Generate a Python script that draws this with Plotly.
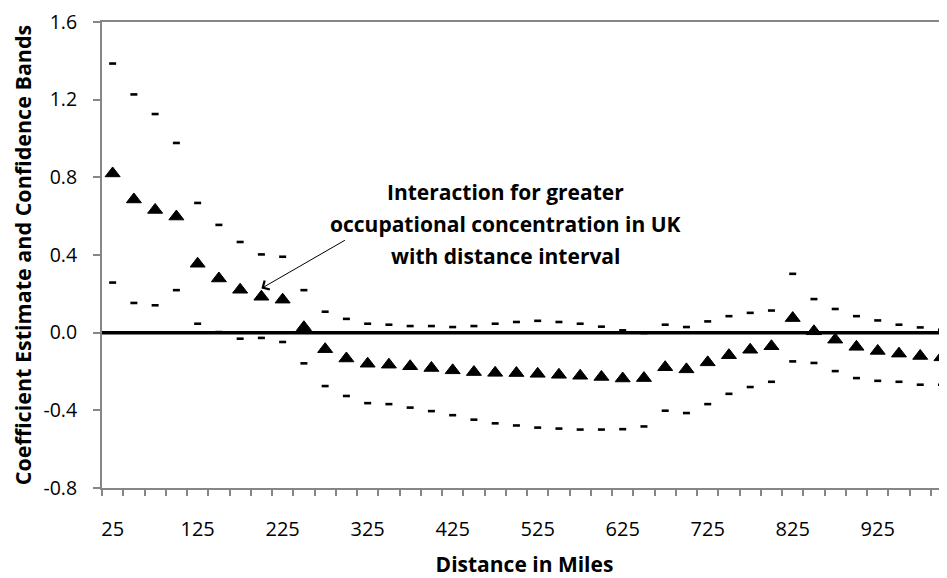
import plotly.graph_objects as go

# ---- data ----
distance = [25, 50, 75, 100, 125, 150, 175, 200, 225, 250,
            275, 300, 325, 350, 375, 400, 425, 450, 475, 500,
            525, 550, 575, 600, 625, 650, 675, 700, 725, 750,
            775, 800, 825, 850, 875, 900, 925, 950, 975, 1000]

estimate = [0.820, 0.686, 0.632, 0.598, 0.355, 0.279, 0.221, 0.185, 0.170, 0.028,
            -0.085, -0.133, -0.160, -0.165, -0.173, -0.182, -0.194, -0.203, -0.207, -0.208,
            -0.212, -0.217, -0.222, -0.228, -0.236, -0.234, -0.178, -0.189, -0.153, -0.116,
            -0.088, -0.070, 0.075, 0.007, -0.036, -0.073, -0.094, -0.108, -0.120, -0.127]

upper = [1.386, 1.227, 1.126, 0.977, 0.668, 0.555, 0.467, 0.403, 0.391, 0.219,
         0.108, 0.071, 0.046, 0.041, 0.034, 0.034, 0.029, 0.034, 0.046, 0.055,
         0.061, 0.055, 0.046, 0.031, 0.012, -0.002, 0.041, 0.029, 0.058, 0.085,
         0.102, 0.114, 0.303, 0.173, 0.122, 0.085, 0.063, 0.041, 0.027, 0.015]

lower = [0.258, 0.153, 0.141, 0.219, 0.046, 0.003, -0.031, -0.027, -0.048, -0.158,
         -0.275, -0.326, -0.363, -0.368, -0.386, -0.404, -0.425, -0.448, -0.467, -0.478,
         -0.489, -0.494, -0.499, -0.499, -0.497, -0.483, -0.402, -0.414, -0.368, -0.315,
         -0.280, -0.253, -0.148, -0.156, -0.198, -0.234, -0.248, -0.253, -0.268, -0.268]

x_tick_labels = [25, 125, 225, 325, 425, 525, 625, 725, 825, 925]
y_ticks = [-0.8, -0.4, 0.0, 0.4, 0.8, 1.2, 1.6]

note_lines = ["Interaction for greater",
              "occupational concentration in UK",
              "with distance interval"]

FONT = "'Open Sans', sans-serif"
AXIS_GRAY = "#868686"

fig = go.Figure()

fig.add_trace(go.Scatter(
    x=distance, y=upper, mode="markers", name="Upper band",
    marker=dict(symbol="line-ew", size=5, color="black",
                line=dict(color="black", width=2.6)),
    cliponaxis=False,
))
fig.add_trace(go.Scatter(
    x=distance, y=lower, mode="markers", name="Lower band",
    marker=dict(symbol="line-ew", size=5, color="black",
                line=dict(color="black", width=2.6)),
    cliponaxis=False,
))
fig.add_trace(go.Scatter(
    x=distance, y=estimate, mode="markers", name="Coefficient estimate",
    marker=dict(symbol="triangle-up", size=13, color="black",
                line=dict(color="black", width=1)),
    cliponaxis=False,
))

# thick reference line at zero
fig.add_shape(type="line", xref="paper", x0=0, x1=1, yref="y", y0=0, y1=0,
              line=dict(color="black", width=3.5), layer="below")

# annotation text (three lines) and arrow
note_y = [0.727, 0.559, 0.396]
for txt, yy in zip(note_lines, note_y):
    fig.add_annotation(x=487, y=yy, xref="x", yref="y", text=txt, showarrow=False,
                       font=dict(family=FONT, size=21, color="black", weight="bold"),
                       xanchor="center", yanchor="middle")

fig.add_annotation(x=200, y=0.228, xref="x", yref="y", text="", showarrow=True,
                   ax=85, ay=-49, arrowhead=4, arrowsize=2, arrowwidth=1,
                   arrowcolor="black")

fig.update_xaxes(
    type="linear", range=[12.5, 1006.5],
    tickmode="array", tickvals=x_tick_labels, ticktext=[str(v) for v in x_tick_labels],
    ticks="", ticklabelstandoff=22,
    minor=dict(tickmode="linear", tick0=12.5, dtick=25, ticks="outside",
               ticklen=6, tickwidth=1.5, tickcolor=AXIS_GRAY, showgrid=False),
    showline=True, linecolor=AXIS_GRAY, linewidth=2, mirror=True,
    showgrid=False, zeroline=False,
    tickfont=dict(family=FONT, size=20, color="black"),
    title=dict(text="Distance in Miles", standoff=18,
               font=dict(family=FONT, size=21, color="black", weight="bold")),
)
fig.update_yaxes(
    range=[-0.8, 1.6], tickmode="array", tickvals=y_ticks,
    ticktext=[f"{v:.1f}" for v in y_ticks],
    ticks="outside", ticklen=7, tickwidth=1.5, tickcolor=AXIS_GRAY,
    ticklabelstandoff=12, ticklabeloverflow="allow",
    showline=True, linecolor=AXIS_GRAY, linewidth=2,
    showgrid=False, zeroline=False,
    tickfont=dict(family=FONT, size=19.5, color="black"),
    title=dict(text="Coefficient Estimate and Confidence Bands", standoff=13,
               font=dict(family=FONT, size=21.5, color="black", weight="bold")),
)

# the page adds an 8px body margin, so the figure is sized to fit the window
fig.update_layout(
    width=939, height=570,
    margin=dict(l=94, r=0, t=9, b=90),
    plot_bgcolor="white", paper_bgcolor="white",
    showlegend=False,
)

fig.write_html("out.html")
